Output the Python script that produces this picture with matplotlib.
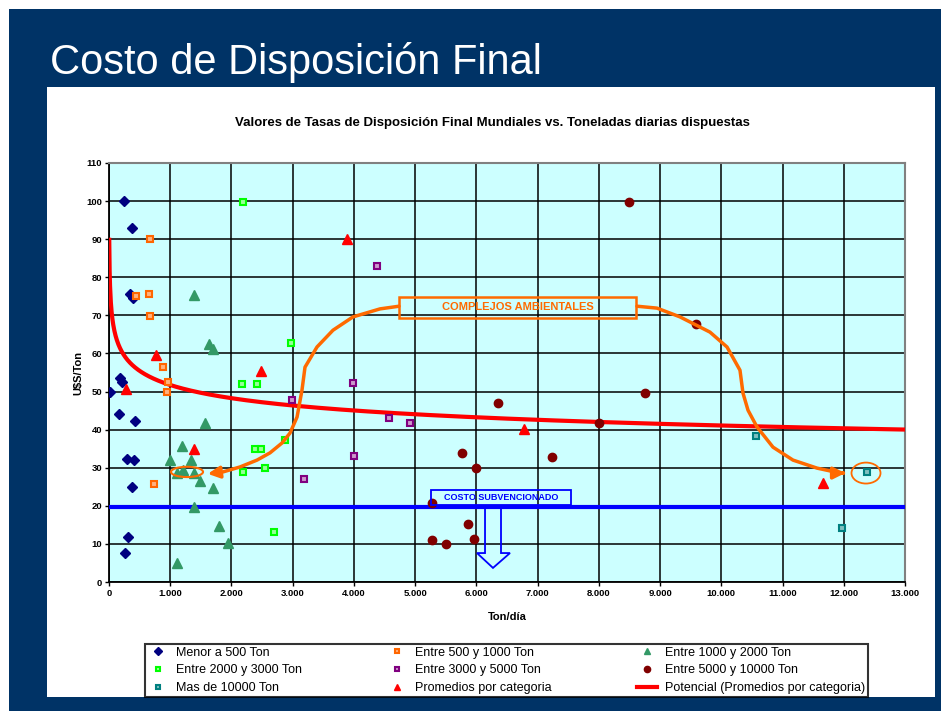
import matplotlib
matplotlib.use("Agg")
import matplotlib.pyplot as plt
from matplotlib.patches import Rectangle, Ellipse, Polygon
from matplotlib.ticker import FuncFormatter, MultipleLocator
import numpy as np

plt.rcParams['font.family'] = ['Liberation Sans', 'DejaVu Sans']

# --- data (Ton/dia, U$S/Ton) ---
menor500_x = [245, 376, 343, 400, 180, 220, 16, 163, 425, 294, 408, 376, 310, 261]
menor500_y = [100, 93, 75.5, 74.5, 53.5, 52.5, 50, 44, 42.3, 32.2, 32, 25, 11.8, 7.6]

e500_1000_x = [670, 441, 653, 670, 882, 964, 947, 735]
e500_1000_y = [90, 75, 75.6, 69.8, 56.4, 52.5, 49.9, 25.7]

e1000_2000_x = [1388, 1633, 1700, 1568, 1192, 996, 1339, 1208, 1110, 1388, 1486, 1699, 1388, 1797, 1944, 1110]
e1000_2000_y = [75.3, 62.5, 61.2, 41.7, 35.7, 32, 32, 29.4, 28.6, 28.6, 26.5, 24.7, 19.7, 14.7, 10.2, 5]

e2000_3000_x = [2188, 2972, 2172, 2417, 2874, 2384, 2482, 2548, 2188, 2695]
e2000_3000_y = [99.8, 62.7, 52, 52, 37.3, 34.9, 34.9, 30, 28.9, 13.1]

e3000_5000_x = [4377, 2989, 3185, 3985, 4573, 4916, 4001]
e3000_5000_y = [83, 47.8, 27, 52.2, 43.1, 41.7, 33.1]

e5000_10000_x = [8493, 9587, 6353, 8754, 8003, 7235, 5765, 5994, 5275, 5863, 5275, 5504, 5961]
e5000_10000_y = [99.7, 67.7, 47, 49.6, 41.7, 32.8, 33.9, 29.9, 20.7, 15.2, 11, 10, 11.3]

mas10000_x = [10567, 12379, 11971]
mas10000_y = [38.3, 28.9, 14.2]

promedios_x = [768, 278, 2482, 1388, 3887, 6778, 11661]
promedios_y = [59.6, 50.7, 55.4, 34.9, 90, 40.2, 26]

# power trendline y = a * x^b, coefficients
trend_a = 103.2
trend_b = -0.1

costo_subvencionado = 19.6

# hand-drawn orange arrows (data coords)
arrow_left_x = [4736, 4426, 3985, 3658, 3397, 3201, 3152, 3071, 2956, 2826, 2629, 2417, 2139, 1862, 1568]
arrow_left_y = [72.4, 71.7, 69.6, 66.1, 61.7, 56.4, 50.4, 43.3, 39.1, 36.5, 33.9, 32.0, 30.2, 28.9, 28.3]
arrow_right_x = [8623, 8950, 9325, 9815, 10093, 10305, 10354, 10436, 10583, 10844, 11171, 11563, 11939, 12069]
arrow_right_y = [72.4, 71.9, 69.6, 65.6, 61.7, 55.6, 49.6, 45.1, 40.7, 35.4, 32.0, 29.9, 28.6, 28.6]

NAVY = '#003366'
ORANGE = '#FF6A00'

fig = plt.figure(figsize=(9.41, 7.11), dpi=100)
fig.patch.set_facecolor('white')

# slide background + white panel
fig.patches.append(Rectangle((9/941, 0), 1, 1 - 9/711, transform=fig.transFigure,
                             facecolor=NAVY, edgecolor='none', zorder=-10))
fig.patches.append(Rectangle((47/941, 1 - 697/711), (935 - 47)/941, (697 - 87)/711,
                             transform=fig.transFigure, facecolor='white',
                             edgecolor='none', zorder=-9))
fig.text(50/941, 1 - 74/711, 'Costo de Disposición Final', color='white',
         fontsize=30, ha='left', va='baseline')
fig.text(492/941, 1 - 123/711,
         'Valores de Tasas de Disposición Final Mundiales vs. Toneladas diarias dispuestas',
         fontsize=9.5, fontweight='bold', ha='center', va='center')

ax = fig.add_axes([109/941, 1 - 582/711, (905 - 109)/941, (582 - 163)/711])
ax.set_facecolor('#CCFFFF')
ax.set_xlim(0, 13000)
ax.set_ylim(0, 110)
ax.xaxis.set_major_locator(MultipleLocator(1000))
ax.yaxis.set_major_locator(MultipleLocator(10))
ax.xaxis.set_major_formatter(FuncFormatter(lambda v, p: f'{int(v):,}'.replace(',', '.')))
ax.grid(True, color='black', linewidth=1.1, zorder=0)
ax.set_axisbelow(True)
ax.tick_params(labelsize=6.8, length=3, width=1, pad=2)
for lab in ax.get_xticklabels() + ax.get_yticklabels():
    lab.set_fontweight('bold')
for s in ['left', 'bottom']:
    ax.spines[s].set_color('black')
    ax.spines[s].set_linewidth(1.3)
for s in ['top', 'right']:
    ax.spines[s].set_color('#808080')
    ax.spines[s].set_linewidth(1.5)
ax.set_xlabel('Ton/día', fontsize=8, fontweight='bold', labelpad=10)
ax.set_ylabel('U$S/Ton', fontsize=8, fontweight='bold', labelpad=2)

# series
h = []
h.append(ax.plot(menor500_x, menor500_y, 'D', color='#000080', ms=5, ls='none',
                 label='Menor a 500 Ton', zorder=4)[0])
h.append(ax.plot(e500_1000_x, e500_1000_y, 's', color='#FF6600', mfc='#FFB27F', mew=1.5,
                 ms=4.8, ls='none', label='Entre 500 y 1000 Ton', zorder=4)[0])
h.append(ax.plot(e1000_2000_x, e1000_2000_y, '^', color='#339966', ms=6.5, ls='none',
                 label='Entre 1000 y 2000 Ton', zorder=4)[0])
h.append(ax.plot(e2000_3000_x, e2000_3000_y, 's', color='#00FF00', mfc='#99FF99', mew=1.5,
                 ms=4.8, ls='none', label='Entre 2000 y 3000 Ton', zorder=4)[0])
h.append(ax.plot(e3000_5000_x, e3000_5000_y, 's', color='#800080', mfc='#CC99CC', mew=1.5,
                 ms=4.8, ls='none', label='Entre 3000 y 5000 Ton', zorder=4)[0])
h.append(ax.plot(e5000_10000_x, e5000_10000_y, 'o', color='#800000', ms=6, ls='none',
                 label='Entre 5000 y 10000 Ton', zorder=4)[0])
h.append(ax.plot(mas10000_x, mas10000_y, 's', color='#008080', mfc='#7FBFBF', mew=1.5,
                 ms=4.8, ls='none', label='Mas de 10000 Ton', zorder=4)[0])
h.append(ax.plot(promedios_x, promedios_y, '^', color='#FF0000', ms=6.5, ls='none',
                 label='Promedios por categoria', zorder=4)[0])

xt = np.linspace(4, 13000, 2000)
h.append(ax.plot(xt, trend_a * xt ** trend_b, color='#FF0000', lw=3,
                 label='Potencial (Promedios por categoria)', zorder=3)[0])

ax.axhline(costo_subvencionado, color='#0000FF', lw=3, zorder=3)

# COSTO SUBVENCIONADO box + hollow arrow
ax.add_patch(Rectangle((5260, 20.2), 2290, 4.0, facecolor='none', edgecolor='#0000FF',
                       lw=1.3, zorder=5))
ax.text(6405, 22.2, 'COSTO SUBVENCIONADO', color='#0000FF', fontsize=6.5,
        fontweight='bold', ha='center', va='center', zorder=6)
ax.add_patch(Polygon([(6141, 20.2), (6141, 7.6), (6010, 7.6), (6271, 3.7),
                      (6549, 7.6), (6402, 7.6), (6402, 20.2)], closed=False,
                     facecolor='none', edgecolor='#0000FF', lw=1.3, zorder=5))

# COMPLEJOS AMBIENTALES box + arrows
ax.add_patch(Rectangle((4736, 69.3), 3871, 5.5, facecolor='none', edgecolor=ORANGE,
                       lw=1.8, zorder=5))
ax.text(6671, 72.1, 'COMPLEJOS AMBIENTALES', color=ORANGE, fontsize=8,
        fontweight='bold', ha='center', va='center', zorder=6)
for xs, ys in [(arrow_left_x, arrow_left_y), (arrow_right_x, arrow_right_y)]:
    ax.plot(xs[:-1], ys[:-1], color=ORANGE, lw=2.5, solid_capstyle='round',
            solid_joinstyle='round', zorder=5)
    ax.annotate('', xy=(xs[-1], ys[-1]), xytext=(xs[-2], ys[-2]),
                arrowprops=dict(arrowstyle='-|>,head_length=0.7,head_width=0.35',
                                color=ORANGE, lw=2.5), zorder=5)
ax.add_patch(Ellipse((1274, 28.9), 523, 2.7, facecolor='none', edgecolor=ORANGE,
                     lw=1.5, zorder=5))
ax.add_patch(Ellipse((12363, 28.6), 474, 5.5, facecolor='none', edgecolor=ORANGE,
                     lw=1.3, zorder=5))

# legend, row-major like the original
order = [0, 3, 6, 1, 4, 7, 2, 5, 8]
leg = fig.legend([h[i] for i in order], [h[i].get_label() for i in order],
                 loc='lower left', ncol=3, mode='expand',
                 bbox_to_anchor=(145/941, 1 - 697/711, (868 - 145)/941, (697 - 640)/711),
                 fontsize=9, frameon=True, fancybox=False, borderaxespad=0,
                 handlelength=1.6, handletextpad=0.6, labelspacing=0.45,
                 borderpad=0.25, markerscale=0.75)
leg.get_frame().set_edgecolor('black')
leg.get_frame().set_linewidth(1.5)

fig.savefig('out.png', dpi=100)
